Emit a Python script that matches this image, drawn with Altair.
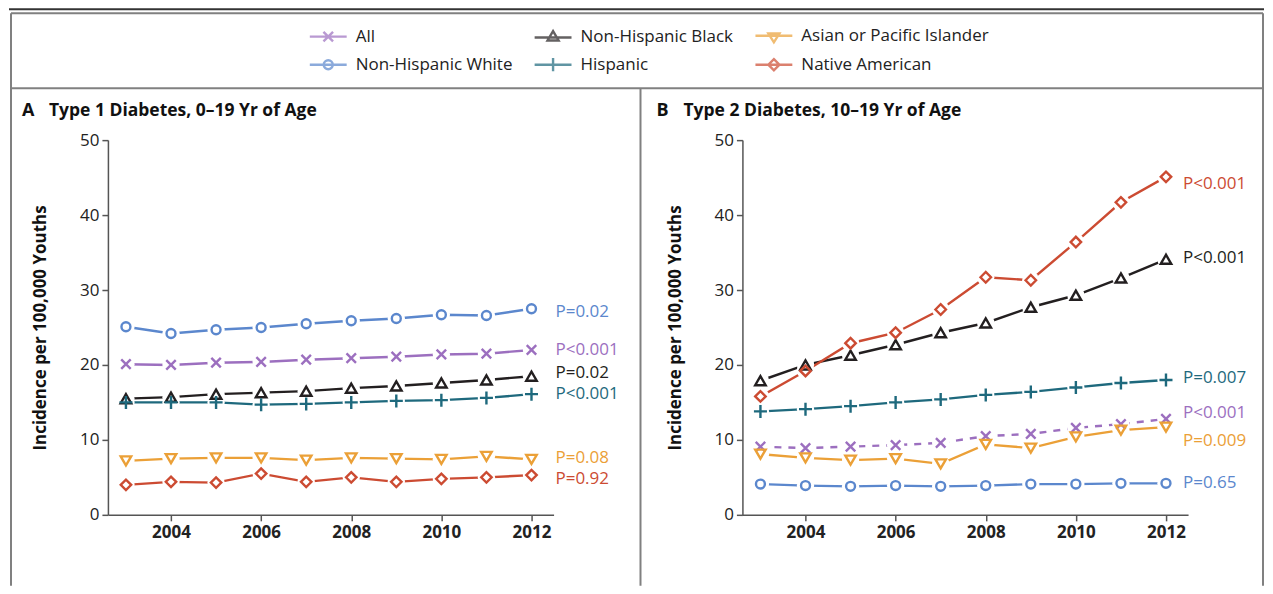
import altair as alt
import pandas as pd

# ---------------- data ----------------
years = [2003, 2004, 2005, 2006, 2007, 2008, 2009, 2010, 2011, 2012]
series = ["All", "Non-Hispanic White", "Non-Hispanic Black", "Hispanic",
          "Asian or Pacific Islander", "Native American"]
colors = ["#9C6FBF", "#5B87CD", "#231F20", "#1E697D", "#EBA037", "#CC4B32"]

# Panel A: type 1 diabetes, 0-19 yr
t1_all    = [20.1, 20.0, 20.3, 20.4, 20.7, 20.9, 21.1, 21.4, 21.5, 22.0]
t1_white  = [25.1, 24.2, 24.7, 25.0, 25.5, 25.9, 26.2, 26.7, 26.6, 27.5]
t1_black  = [15.5, 15.7, 16.1, 16.3, 16.5, 16.9, 17.2, 17.6, 18.0, 18.5]
t1_hisp   = [15.0, 15.0, 15.0, 14.7, 14.8, 15.0, 15.2, 15.3, 15.6, 16.1]
t1_asian  = [7.2, 7.5, 7.6, 7.6, 7.3, 7.6, 7.5, 7.4, 7.8, 7.4]
t1_native = [4.0, 4.4, 4.3, 5.5, 4.4, 5.0, 4.4, 4.8, 5.0, 5.3]

# Panel B: type 2 diabetes, 10-19 yr
t2_all    = [9.1, 8.9, 9.1, 9.3, 9.6, 10.5, 10.8, 11.6, 12.1, 12.8]
t2_white  = [4.1, 3.9, 3.8, 3.9, 3.8, 3.9, 4.1, 4.1, 4.2, 4.2]
t2_black  = [17.9, 20.0, 21.3, 22.7, 24.3, 25.6, 27.7, 29.3, 31.6, 34.1]
t2_hisp   = [13.8, 14.1, 14.5, 15.0, 15.4, 16.0, 16.4, 17.0, 17.6, 18.0]
t2_asian  = [8.1, 7.6, 7.3, 7.5, 6.8, 9.4, 8.9, 10.4, 11.3, 11.7]
t2_native = [15.8, 19.2, 22.9, 24.3, 27.4, 31.7, 31.3, 36.4, 41.7, 45.1]

# P-value labels (series, text, label height)
pA_series = ["Non-Hispanic White", "All", "Non-Hispanic Black", "Hispanic",
             "Asian or Pacific Islander", "Native American"]
pA_text = ["P=0.02", "P<0.001", "P=0.02", "P<0.001", "P=0.08", "P=0.92"]
pA_y = [27.1, 22.0, 18.9, 16.1, 7.6, 4.8]
pB_series = ["Native American", "Non-Hispanic Black", "Hispanic", "All",
             "Asian or Pacific Islander", "Non-Hispanic White"]
pB_text = ["P<0.001", "P<0.001", "P=0.007", "P<0.001", "P=0.009", "P=0.65"]
pB_y = [44.1, 34.3, 18.3, 13.6, 9.9, 4.3]

panel_letters = ["A", "B"]
panel_titles = ["Type 1 Diabetes, 0\u201319 Yr of Age", "Type 2 Diabetes, 10\u201319 Yr of Age"]
y_title = "Incidence per 100,000 Youths"
x_ticks = [2004, 2006, 2008, 2010, 2012]
y_ticks = [0, 10, 20, 30, 40, 50]

# legend entries fill column by column (2 rows x 3 columns)
legend_order = ["All", "Non-Hispanic White", "Non-Hispanic Black", "Hispanic",
                "Asian or Pacific Islander", "Native American"]

# ---------------- styling ----------------
FONT = "Open Sans"
W, H = 446, 375
color_of = dict(zip(series, colors))
marker_shape = {
    "All": "M-1,-1L1,1M-1,1L1,-1",
    "Non-Hispanic White": "circle",
    "Non-Hispanic Black": "triangle-up",
    "Hispanic": "M-1,0H1M0,-1V1",
    "Asian or Pacific Islander": "triangle-down",
    "Native American": "diamond",
}
marker_size = {
    "All": 90, "Non-Hispanic White": 80, "Non-Hispanic Black": 110,
    "Hispanic": 170, "Asian or Pacific Islander": 110, "Native American": 110,
}
# legend glyphs: a short line with the marker on it (unit box scaled by 1.23)
legend_paths = {
    "All": "M-1.23,0H1.23M-0.32,-0.32L0.32,0.32M-0.32,0.32L0.32,-0.32",
    "Non-Hispanic White": "M-1.23,0H1.23M0.3,0A0.3,0.3 0 1 1 -0.3,0A0.3,0.3 0 1 1 0.3,0",
    "Non-Hispanic Black": "M-1.23,0H1.23M0,-0.42L0.37,0.2L-0.37,0.2Z",
    "Hispanic": "M-1.23,0H1.23M0,-0.44V0.44",
    "Asian or Pacific Islander": "M-1.23,0H1.23M-0.37,-0.15L0.37,-0.15L0,0.44Z",
    "Native American": "M-1.23,0H1.23M0,-0.37L0.37,0L0,0.37L-0.37,0Z",
}

xscale = alt.Scale(domain=[2002.6, 2012.49], nice=False, zero=False)
yscale = alt.Scale(domain=[0, 50], nice=False)
xaxis = alt.Axis(values=x_ticks, format="d", title=None, labelFontWeight="bold",
                 labelFontSize=17, labelPadding=4)
yaxis = alt.Axis(values=y_ticks, title=y_title, titleFontWeight="bold", titleFontSize=17,
                 titleX=-67, titleY=H / 2, titleAlign="center", titleBaseline="middle",
                 titleAngle=270, labelFontSize=17, labelPadding=3)
X = alt.X("year:Q", scale=xscale, axis=xaxis)
Y = alt.Y("value:Q", scale=yscale, axis=yaxis)


def one(d):
    return alt.Data(values=[d])


def panel(values, p_series, p_text, p_y, p_dx, idx, all_dash):
    lines, halos, marks = [], [], []
    for s in series:
        df = pd.DataFrame({"year": years, "value": values[s], "series": s})
        kw = {}
        if s == "All" and all_dash:
            kw["strokeDash"] = [7, 7]
        lines.append(alt.Chart(df).mark_line(color=color_of[s], strokeWidth=2.4, **kw)
                     .encode(x=X, y=Y))
        halos.append(alt.Chart(df).mark_point(filled=True, color="white", opacity=1,
                                              size=300, shape="circle", strokeWidth=0)
                     .encode(x=X, y=Y))
        marks.append(alt.Chart(df).mark_point(filled=False, color=color_of[s], opacity=1,
                                              strokeWidth=2.4, shape=marker_shape[s],
                                              size=marker_size[s])
                     .encode(x=X, y=Y))
    texts = []
    for s, t, v in zip(p_series, p_text, p_y):
        pdf = pd.DataFrame({"label": [t], "value": [v], "year": [years[-1]]})
        texts.append(alt.Chart(pdf).mark_text(align="left", baseline="middle", dx=p_dx,
                                              font=FONT, fontSize=17, color=color_of[s])
                     .encode(x=X, y=Y, text="label:N"))
    letter = alt.Chart(one({"t": panel_letters[idx]})).mark_text(
        align="left", baseline="middle", font=FONT, fontSize=18, fontWeight="bold",
        color="#111").encode(x=alt.value(-86), y=alt.value(-29), text="t:N")
    title = alt.Chart(one({"t": panel_titles[idx]})).mark_text(
        align="left", baseline="middle", font=FONT, fontSize=17.5, fontWeight="bold",
        color="#111").encode(x=alt.value(-59), y=alt.value(-29), text="t:N")
    return lines + halos + marks + texts + [letter, title]


valsA = dict(zip(series, [t1_all, t1_white, t1_black, t1_hisp, t1_asian, t1_native]))
valsB = dict(zip(series, [t2_all, t2_white, t2_black, t2_hisp, t2_asian, t2_native]))

layersA = panel(valsA, pA_series, pA_text, pA_y, 24, 0, False)
layersB = panel(valsB, pB_series, pB_text, pB_y, 17, 1, True)

# frame lines (decoration), pixel offsets relative to panel A plot origin
frame_segments = [
    # x1, x2, y1, y2, color, width
    (-99, 1157, -131, -131, "#333333", 2),
    (-97, 1156, -127, -127, "#808080", 2),
    (-97, 1156, -52, -52, "#808080", 2),
    (-97, -97, -127, 446, "#808080", 2),
    (1156, 1156, -127, 446, "#808080", 2),
    (533, 533, -52, 446, "#808080", 2),
]
frame_layers = []
for x1, x2, y1, y2, c, w in frame_segments:
    frame_layers.append(alt.Chart(one({"k": 1})).mark_rule(color=c, strokeWidth=w).encode(
        x=alt.value(x1), x2=alt.value(x2), y=alt.value(y1), y2=alt.value(y2)))

# legend (real Vega-Lite legend from an empty layer)
leg_df = pd.DataFrame({"year": years[:6], "value": [0] * 6, "series": legend_order})
legend_spec = alt.Legend(title=None, orient="none", legendX=204, legendY=-121,
                         values=legend_order,
                         columns=3, gridAlign="each", columnPadding=17, rowPadding=1,
                         symbolSize=900, symbolStrokeWidth=2.4, labelOffset=11,
                         labelFont=FONT, labelFontSize=17, labelColor="#222",
                         labelLimit=0, padding=0, symbolFillColor="transparent")
legend_layer = alt.Chart(leg_df).transform_filter("false").mark_point(
    filled=False, strokeWidth=2.4, size=900).encode(
    x=X, y=Y,
    color=alt.Color("series:N", sort=legend_order,
                    scale=alt.Scale(domain=legend_order,
                                    range=[color_of[s] for s in legend_order]),
                    legend=legend_spec),
    shape=alt.Shape("series:N", sort=legend_order,
                    scale=alt.Scale(domain=legend_order,
                                    range=[legend_paths[s] for s in legend_order]),
                    legend=legend_spec))

panelA = alt.layer(*(frame_layers + layersA + [legend_layer])).properties(width=W, height=H)
panelB = alt.layer(*layersB).properties(width=W, height=H)

chart = alt.hconcat(panelA, panelB, spacing=189, bounds="flush", padding=0).configure_view(
    stroke=None).configure_axis(
    domainColor="#555", domainWidth=1.5, tickColor="#555", tickWidth=1.5, tickSize=6,
    labelFont=FONT, titleFont=FONT, labelColor="#222", titleColor="#111", grid=False)

chart.save("out.html", embed_options={"renderer": "svg", "actions": False})
